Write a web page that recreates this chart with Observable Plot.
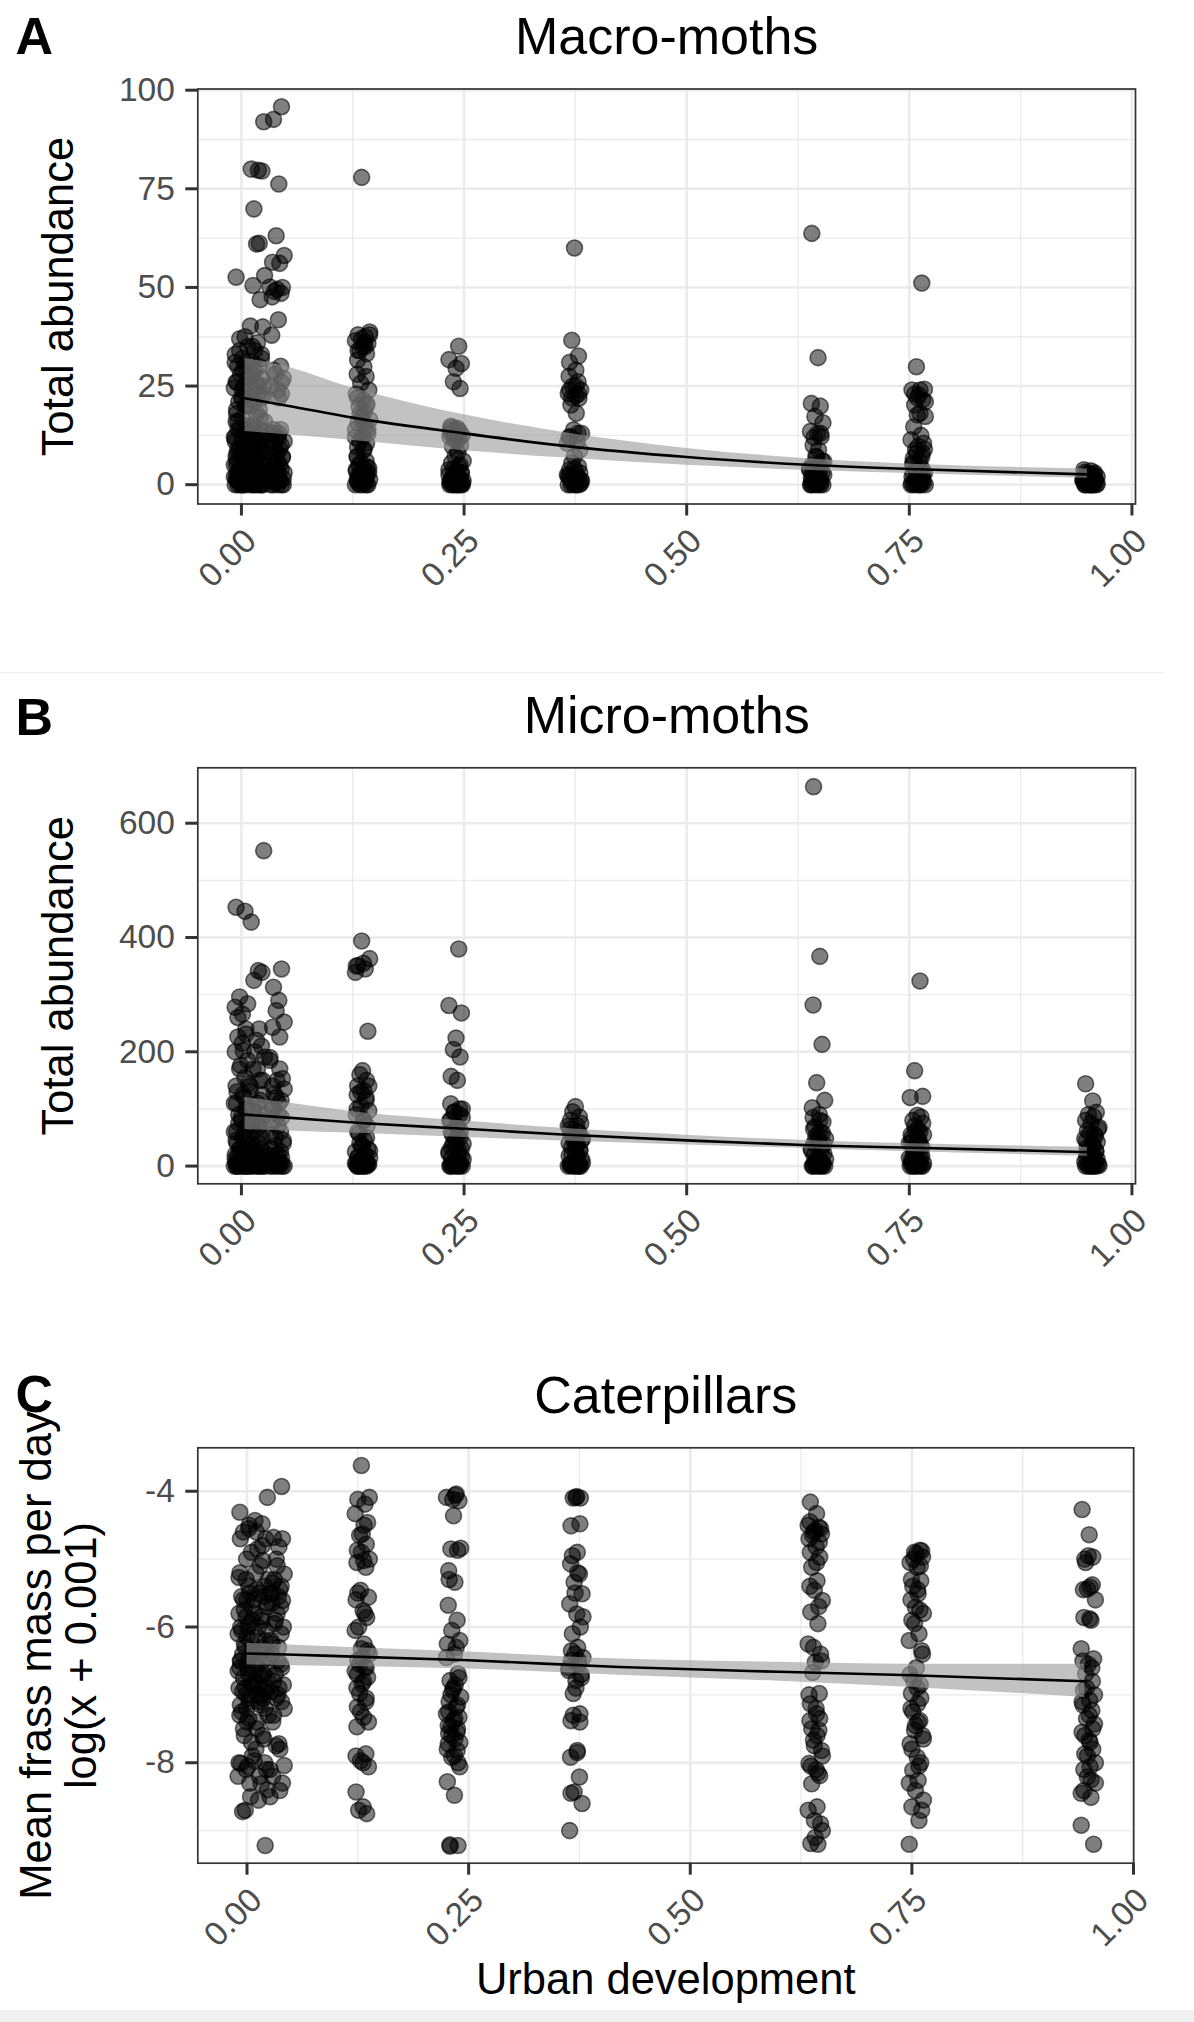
<!DOCTYPE html>
<html>
<head>
<meta charset="utf-8">
<script src="https://cdn.jsdelivr.net/npm/d3@7"></script>
<script src="https://cdn.jsdelivr.net/npm/@observablehq/plot@0.6"></script>
<style>
html, body { margin: 0; padding: 0; background: #fff; }
#fig { position: relative; width: 1194px; height: 2022px; overflow: hidden; background: #fff; }
#fig .panel { position: absolute; left: 0; width: 1194px; }
#fig .panel svg { display: block; }
.sep { position: absolute; left: 0; top: 672px; width: 1164px; height: 1px; background: #eeeeee; }
.band { position: absolute; left: 0; top: 2010px; width: 1194px; height: 12px; background: #f1f1f1; }
</style>
</head>
<body>
<div id="fig">
  <div class="panel" id="pA" style="top:0px"></div>
  <div class="panel" id="pB" style="top:672px"></div>
  <div class="panel" id="pC" style="top:1330px"></div>
  <div class="sep"></div>
  <div class="band"></div>
</div>
<script>
const FONT = "'Liberation Sans', Arial, Helvetica, sans-serif";

// ---------- shared axis values ----------
const xTicks = [0, 0.25, 0.5, 0.75, 1];
const xMinor = [0.125, 0.375, 0.625, 0.875];
// small horizontal jitter offsets (x units) as seen in the figure
const jitter = [-0.006, 0.004, -0.002, 0.007, -0.007, 0.001, 0.005, -0.004, 0.002, -0.001,
                0.008, -0.005, 0.003, -0.008, 0.006, 0, -0.003, 0.0045, -0.0055, 0.0015];

// ---------- A: Macro-moths ----------
const macroSites = [0.0, 0.018, 0.040, 0.136, 0.241, 0.374, 0.646, 0.760, 0.953];
const macroS1 = [52.6, 37.5, 37.0, 35, 33, 32, 31, 30, 29, 28, 27, 26, 25, 24.5, 23, 22, 21, 20, 19, 17, 16, 15, 14, 13.5, 12, 11, 10, 9, 8, 7.5, 7, 6, 5.5, 5, 4.5, 4, 3.5, 3, 2.5, 2, 1.5, 1, 1, 0.5, 0, 0, 0, 0,
  0, 0, 0.5, 1, 1.5, 2, 2.5, 3, 3.5, 4, 5, 6, 7, 8, 9, 10, 11, 12, 13, 14, 2, 4, 6, 8, 10, 12, 14, 1, 3, 5, 18, 22, 26, 30, 34, 27, 31, 24, 20, 16];
const macroS2 = [92.0, 80.0, 79.7, 79.5, 69.9, 61.2, 61.0, 53.0, 50.5, 46.9, 40.2, 40.0, 36, 34, 33, 31, 30, 28, 27, 26, 25, 24, 23, 22, 21, 19, 18, 16, 15, 14, 13, 12, 11, 10, 10, 9, 8, 7, 6, 5, 5, 4, 3, 3, 2, 2, 1, 1, 0, 0, 0, 0, 0,
  0, 0, 0.5, 1.5, 2.5, 3.5, 4.5, 5.5, 6.5, 7.5, 8.5, 9.5, 11, 12.5, 13.5, 14, 17, 20, 23, 25, 29, 32, 35];
const macroS3 = [95.8, 92.6, 76.2, 63.1, 58.1, 56.4, 56.1, 50.1, 50.0, 49.5, 49.0, 48.5, 47.6, 41.8, 37.9, 30, 28, 27, 25, 24, 23, 14, 13, 12, 11, 10, 9, 8, 7, 6, 5, 4, 3, 2.5, 2, 1, 1, 0, 0, 0,
  0, 0, 1, 2, 3, 4, 5, 6, 7, 8, 9, 10, 11, 12, 13, 14, 0.5, 1.5, 2.5, 3.5, 26, 29, 22];
const macroS4 = [77.9, 38.7, 38, 37.5, 36.5, 35.8, 35, 34, 33.2, 31.6, 29.9, 28, 27.4, 25.7, 24, 23, 21.5, 20.5, 19.8, 18.5, 17.3, 16.5, 15.6, 14.5, 13.9, 13, 12.2, 11, 10.5, 9.5, 8.8, 7.2, 6, 5.5, 4.2, 3.8, 3.5, 2.9, 2.5, 2.1, 1.6, 1.3, 1, 0.4, 0, 0, 0,
  0, 0, 0.5, 1, 1.5, 2, 2.5, 3, 3.5, 4, 4.5, 5, 36, 37, 38, 34, 35, 12, 14, 16, 18, 20, 22, 9, 7];
const macroS5 = [35.1, 31.7, 30.7, 29.5, 26.1, 24.4, 14.8, 14.3, 13.8, 13.5, 13.0, 12.5, 12.2, 11, 10, 9.7, 8, 7.2, 6, 5.5, 4.5, 3.8, 3, 2.5, 2, 1.3, 1, 0.8, 0.4, 0.2, 0, 0, 0, 0,
  0, 0, 0, 0.5, 1, 1.5, 2, 2.5, 3, 3.5, 4, 5, 13, 14, 14.5, 12, 11.5, 0.3, 0.7, 1.2];
const macroS6 = [60.0, 36.6, 32.6, 31, 29.0, 27.5, 26.1, 25, 24.0, 23.1, 22.5, 21.9, 20.2, 18.1, 13.9, 13, 12.2, 11, 10.5, 8.8, 7.2, 5.5, 4.6, 3.8, 3, 2.1, 1.5, 0.8, 0.3, 0, 0, 0,
  0, 0, 0.5, 1, 1.5, 2, 2.5, 3, 4, 22, 23, 24, 25, 12, 13, 0.2, 1.2, 2.2];
const macroS7 = [63.7, 32.2, 20.6, 19.9, 17.3, 15.7, 13.5, 13.0, 12.2, 10, 8.8, 7.2, 5.9, 5, 4.6, 3.8, 3, 2.5, 2, 1.3, 1, 0.4, 0, 0, 0, 0,
  0, 0, 0.5, 1, 1.5, 2, 2.5, 3, 3.5, 4, 6, 7, 12, 13, 0.3, 0.8, 1.8];
const macroS8 = [51.1, 29.9, 24.2, 24.0, 22.7, 21.5, 20.2, 18.1, 17.7, 17.3, 14.7, 12.5, 11.4, 10.5, 9.7, 8.8, 8.0, 6.7, 6, 5.5, 4.2, 3.5, 2.9, 2, 1.7, 1, 0.4, 0, 0, 0, 0,
  0, 0, 0.5, 1, 1.5, 2, 3, 4, 5, 7, 8, 9, 0.3, 1.3, 2.5, 23, 24, 22, 21];
const macroS9 = [3.8, 3.5, 3, 2.8, 2.5, 2.2, 2, 1.8, 1.5, 1.2, 1, 0.8, 0.5, 0.3, 0, 0, 0, 0, 0, 0, 1, 2, 0.5, 1.5,
  0, 0, 0.2, 0.4, 0.6, 1, 1.3, 1.7, 2.4, 2.6, 3.2, 0.1, 0.9];
const macroFitX  = [0.004, 0.044, 0.125, 0.25, 0.36, 0.5, 0.64, 0.76, 0.95];
const macroFit   = [21.9, 20.3, 17.0, 13.0, 9.9, 7.0, 5.0, 3.9, 2.6];
const macroFitHi = [32.0, 30.3, 24.5, 17.7, 13.3, 9.2, 6.5, 5.1, 4.0];
const macroFitLo = [13.5, 12.8, 11.2, 8.6, 6.8, 4.9, 3.6, 2.8, 1.6];
const macroYTicks = [0, 25, 50, 75, 100];
const macroYMinor = [12.5, 37.5, 62.5, 87.5];

// ---------- B: Micro-moths ----------
const microSites = [0.0, 0.018, 0.040, 0.136, 0.241, 0.375, 0.648, 0.758, 0.955];
const microS1 = [453, 446, 296, 284, 278, 266, 231, 226, 202, 176, 144, 130, 121, 110, 100, 86, 75, 62, 60, 50, 45, 40, 30, 22, 20, 15, 10, 8, 5, 3, 0, 0, 0, 0, 0, 0,
  0, 0, 0, 2, 4, 6, 8, 10, 12, 15, 18, 20, 25, 30, 35, 40, 50, 60, 70, 80, 90, 100, 110, 125, 140, 155, 170, 185, 200, 215, 240, 260, 1, 3, 5, 7];
const microS2 = [552, 427, 342, 339, 325, 240, 220, 191, 170, 150, 140, 125, 110, 95, 80, 70, 55, 40, 30, 25, 18, 12, 8, 5, 2, 0, 0, 0, 0, 0,
  0, 0, 1, 3, 5, 7, 9, 12, 15, 20, 25, 30, 40, 50, 60, 70, 80, 90, 100, 115, 130, 150, 170, 200, 210];
const microS3 = [345, 313, 290, 272, 252, 243, 226, 185, 153, 150, 127, 115, 100, 90, 75, 60, 50, 40, 30, 20, 15, 10, 5, 0, 0, 0, 0,
  0, 0, 1, 3, 5, 8, 12, 18, 25, 35, 45, 55, 70, 85, 100, 110, 120, 135, 140, 170, 190];
const microS4 = [394, 363, 351, 345, 339, 236, 167, 160, 150, 140, 132, 125, 115, 105, 97, 90, 80, 70, 57, 45, 35, 27, 15, 10, 5, 3, 0, 0, 0, 0,
  0, 0, 1, 2, 3, 4, 5, 6, 8, 10, 12, 14, 16, 20, 25, 30, 35, 40, 50, 60, 80, 100, 120, 130, 140, 350, 355];
const microS5 = [380, 281, 268, 224, 204, 191, 157, 150, 109, 100, 94, 85, 80, 70, 62, 55, 51, 45, 39, 33, 27, 22, 16, 10, 6, 4, 2, 0, 0, 0, 0,
  0, 0, 1, 2, 3, 5, 8, 12, 15, 20, 25, 30, 35, 40, 50, 60, 70, 80, 90, 95, 100];
const microS6 = [104, 95, 86, 80, 71, 65, 59, 52, 45, 40, 35, 27, 20, 15, 10, 6, 3, 0, 0, 0, 0,
  0, 0, 1, 2, 3, 5, 8, 12, 18, 22, 28, 33, 38, 42, 48, 55, 60, 70, 75];
const microS7 = [664, 367, 282, 213, 146, 115, 102, 90, 77, 69, 60, 55, 48, 40, 35, 28, 22, 15, 10, 5, 2, 0, 0, 0, 0,
  0, 0, 1, 2, 4, 6, 8, 12, 18, 25, 30, 38, 45, 52, 58, 65, 80, 85];
const microS8 = [324, 167, 122, 120, 89, 86, 80, 64, 62, 55, 50, 45, 40, 33, 27, 22, 16, 12, 8, 4, 2, 0, 0, 0, 0,
  0, 0, 1, 3, 5, 7, 10, 14, 18, 25, 30, 36, 42, 48, 55, 60, 70, 75];
const microS9 = [144, 114, 94, 90, 86, 74, 68, 62, 55, 48, 42, 36, 30, 27, 22, 19, 14, 10, 6, 3, 0, 0, 0, 0,
  0, 0, 1, 2, 4, 7, 12, 16, 20, 25, 32, 38, 45, 52, 58, 65, 80];
const microFitX  = [0.004, 0.044, 0.138, 0.25, 0.36, 0.5, 0.645, 0.755, 0.95];
const microFit   = [90, 85.7, 75, 65.3, 55.4, 45, 36, 32, 24.5];
const microFitHi = [120, 112, 93, 79, 66, 54, 44, 39, 33];
const microFitLo = [64, 62, 57, 50, 44, 37, 30, 25, 17];
const microYTicks = [0, 200, 400, 600];
const microYMinor = [100, 300, 500];

// ---------- C: Caterpillars ----------
const catSites = [-0.002, 0.016, 0.034, 0.130, 0.233, 0.371, 0.641, 0.755, 0.949];
const catS1 = [-4.31, -4.55, -4.6, -4.9, -5.27, -5.3, -5.5, -5.55, -5.6, -5.75, -5.9, -6.0, -6.0, -6.1, -6.2, -6.3, -6.4, -6.45, -6.5, -6.55, -6.6, -6.7, -6.75, -6.85, -6.9, -7.0, -7.1, -7.25, -7.4, -7.6, -7.9, -8.01, -8.05, -8.2, -8.5, -8.7, -8.72,
  -4.5, -4.7, -5.0, -5.2, -5.4, -5.6, -5.7, -5.8, -5.85, -5.95, -6.05, -6.15, -6.25, -6.35, -6.5, -6.6, -6.65, -6.8, -6.9, -6.95, -7.05, -7.15, -7.2, -7.3, -7.35, -7.5, -7.7, -8.0, -8.1, -8.3];
const catS2 = [-4.09, -4.43, -4.48, -4.7, -4.85, -5.02, -5.1, -5.3, -5.45, -5.55, -5.6, -5.7, -5.85, -6.0, -6.2, -6.35, -6.5, -6.6, -6.65, -6.7, -6.75, -6.8, -6.9, -6.95, -7.0, -7.05, -7.15, -7.3, -7.5, -7.65, -7.97, -8.1, -8.31, -8.55, -9.22,
  -4.6, -4.8, -5.2, -5.4, -5.5, -5.65, -5.8, -5.9, -6.05, -6.15, -6.3, -6.4, -6.45, -6.55, -6.7, -6.85, -6.9, -7.0, -7.1, -7.2, -7.4, -7.6, -7.8, -8.0, -8.2, -8.4];
const catS3 = [-3.93, -4.68, -4.82, -5.0, -5.22, -5.35, -5.45, -5.51, -5.61, -5.8, -5.95, -6.1, -6.25, -6.3, -6.4, -6.55, -6.7, -6.85, -6.95, -7.0, -7.1, -7.3, -7.72, -7.75, -8.04, -8.2, -8.41, -8.5,
  -4.7, -5.1, -5.3, -5.4, -5.5, -5.55, -5.65, -5.7, -5.9, -6.0, -6.2, -6.5, -6.6, -6.8, -6.9, -7.05, -7.2, -7.4, -7.8, -8.1, -8.3];
const catS4 = [-3.62, -4.09, -4.12, -4.19, -4.33, -4.46, -4.63, -4.65, -4.78, -4.87, -5.02, -5.05, -5.12, -5.46, -5.56, -5.6, -5.76, -5.86, -6.0, -6.25, -6.32, -6.40, -6.49, -6.59, -6.65, -6.74, -6.84, -6.98, -7.05, -7.18, -7.33, -7.47, -7.87, -7.97, -8.06, -8.43, -8.65, -8.75, -8.7,
  -4.5, -4.9, -5.0, -5.5, -5.8, -6.05, -6.35, -6.45, -6.55, -6.6, -6.7, -6.8, -6.9, -7.1, -7.25, -7.4, -7.9, -8.0];
const catS5 = [-4.04, -4.09, -4.14, -4.36, -4.85, -4.87, -5.17, -5.34, -5.68, -5.9, -6.05, -6.2, -6.25, -6.4, -6.69, -6.79, -6.85, -6.93, -7.03, -7.1, -7.18, -7.28, -7.33, -7.38, -7.47, -7.5, -7.57, -7.65, -7.72, -7.82, -7.92, -8.06, -8.28, -8.48, -9.22, -9.23,
  -4.06, -4.12, -4.84, -5.3, -6.3, -6.45, -6.75, -6.9, -7.0, -7.15, -7.25, -7.35, -7.45, -7.55, -7.6, -7.7, -7.8, -7.9, -8.0, -9.21];
const catS6 = [-4.09, -4.1, -4.48, -4.51, -4.90, -5.07, -5.22, -5.34, -5.51, -5.66, -5.81, -6.0, -6.10, -6.3, -6.40, -6.45, -6.49, -6.55, -6.64, -6.7, -6.79, -6.98, -7.28, -7.38, -7.82, -7.92, -8.21, -8.43, -8.6, -9.0,
  -4.08, -4.1, -4.95, -5.2, -5.5, -5.85, -6.35, -6.5, -6.6, -6.75, -6.9, -7.3, -7.4, -8.45, -7.85];
const catS7 = [-4.16, -4.33, -4.45, -4.53, -4.6, -4.63, -4.7, -4.82, -4.97, -5.12, -5.32, -5.46, -5.61, -5.78, -5.95, -6.25, -6.40, -6.52, -6.67, -6.98, -7.13, -7.28, -7.38, -7.52, -7.67, -7.82, -8.01, -8.1, -8.19, -8.31, -8.65, -8.85, -9.0, -9.19, -9.2,
  -4.5, -4.55, -4.58, -4.65, -4.75, -4.9, -5.05, -5.4, -5.7, -6.3, -6.5, -7.0, -7.2, -7.35, -7.5, -7.6, -7.75, -7.9, -8.05, -8.15, -8.7, -8.9, -9.1];
const catS8 = [-4.87, -4.9, -4.97, -5.05, -5.12, -5.32, -5.4, -5.51, -5.71, -5.8, -5.90, -6.10, -6.2, -6.35, -6.6, -6.79, -6.85, -6.98, -7.13, -7.2, -7.38, -7.52, -7.6, -7.72, -7.92, -8.0, -8.11, -8.26, -8.41, -8.55, -8.65, -8.85, -9.2,
  -4.88, -4.92, -5.0, -5.1, -5.3, -5.45, -5.6, -5.75, -5.95, -6.4, -6.7, -6.9, -7.05, -7.25, -7.4, -7.45, -7.65, -7.8, -8.05, -8.3, -8.7];
const catS9 = [-4.27, -4.64, -4.97, -5.0, -5.41, -5.44, -5.6, -5.86, -5.9, -6.32, -6.47, -6.55, -6.69, -6.8, -6.93, -7.08, -7.15, -7.23, -7.35, -7.43, -7.55, -7.67, -7.8, -7.87, -8.06, -8.21, -8.3, -8.41, -8.51, -8.92, -9.2,
  -4.95, -5.05, -5.38, -5.45, -5.88, -6.5, -6.6, -6.9, -7.0, -7.1, -7.3, -7.5, -7.6, -7.7, -7.9, -8.0, -8.1, -8.25, -8.45];
const catFitX  = [0.0, 0.054, 0.25, 0.42, 0.6, 0.75, 0.945];
const catFit   = [-6.39, -6.41, -6.49, -6.59, -6.66, -6.71, -6.80];
const catFitHi = [-6.24, -6.27, -6.37, -6.47, -6.52, -6.55, -6.55];
const catFitLo = [-6.56, -6.57, -6.62, -6.71, -6.80, -6.89, -7.04];
const catYTicks = [-8, -6, -4];
const catYMinor = [-9, -7, -5];

// ---------- helpers ----------
function makePoints(sites, groups) {
  const out = [];
  groups.forEach((vals, g) => {
    vals.forEach((v, i) => {
      out.push({x: sites[g] + jitter[(i + 3 * g) % jitter.length], y: v});
    });
  });
  return out;
}
function makeFit(xs, fit, lo, hi) {
  return xs.map((x, i) => ({x, fit: fit[i], lo: lo[i], hi: hi[i]}));
}

function panel(o) {
  const marks = [
    Plot.ruleX(xMinor, {stroke: "#ebebeb", strokeWidth: 1.4}),
    Plot.ruleY(o.yMinor, {stroke: "#ebebeb", strokeWidth: 1.4}),
    Plot.ruleX(xTicks.filter(d => d >= o.xDomain[0] && d <= o.xDomain[1]), {stroke: "#ebebeb", strokeWidth: 2.6}),
    Plot.ruleY(o.yTicks, {stroke: "#ebebeb", strokeWidth: 2.6}),
    Plot.dot(o.points, {x: "x", y: "y", r: 8, fill: "black", fillOpacity: 0.5,
      stroke: "black", strokeOpacity: 0.55, strokeWidth: 1.6}),
    Plot.areaY(o.fit, {x: "x", y1: "lo", y2: "hi", fill: "#999999", fillOpacity: 0.6, curve: "monotone-x"}),
    Plot.line(o.fit, {x: "x", y: "fit", stroke: "black", strokeWidth: 2.6, curve: "monotone-x"}),
    Plot.frame({stroke: "#333333", strokeWidth: 1.7}),
    Plot.axisX({ticks: xTicks, tickFormat: d3.format(".2f"), tickSize: 12, tickPadding: 10,
      tickRotate: -45, lineAnchor: "top", fontSize: 33.5, fill: "#4d4d4d", stroke: "#333333",
      strokeWidth: 3, label: null}),
    Plot.axisY({ticks: o.yTicks, tickFormat: d => String(d), tickSize: 12, tickPadding: 11,
      fontSize: 33.5, fill: "#4d4d4d", stroke: "#333333", strokeWidth: 3, label: null}),
    Plot.text([o.title], {frameAnchor: "top", dy: -35, lineAnchor: "bottom", fontSize: 52, fill: "black"}),
    Plot.text([o.tag], {frameAnchor: "top-left", textAnchor: "start", dx: 15 - o.ml, dy: o.tagDy,
      lineAnchor: "bottom", fontSize: 52, fontWeight: "bold", fill: "black"}),
    Plot.text([o.ylabel], {frameAnchor: "left", textAnchor: "middle", rotate: -90, dx: o.ylabelDx,
      lineAnchor: "bottom", lineHeight: 1.03, fontSize: 43.5, fill: "black"})
  ];
  if (o.xlabel) {
    marks.push(Plot.text([o.xlabel], {frameAnchor: "bottom", textAnchor: "middle", dy: o.xlabelDy,
      lineAnchor: "bottom", fontSize: 43.5, fill: "black"}));
  }
  return Plot.plot({
    width: 1194,
    height: o.height,
    marginTop: o.mt,
    marginBottom: o.mb,
    marginLeft: o.ml,
    marginRight: o.mr,
    x: {domain: o.xDomain},
    y: {domain: o.yDomain},
    style: {fontFamily: FONT, background: "white", overflow: "visible"},
    marks
  });
}

document.getElementById("pA").appendChild(panel({
  height: 672, mt: 88.5, mb: 168.5, ml: 197.3, mr: 59,
  xDomain: [-0.049, 1.004], yDomain: [-4.9, 100.3],
  yTicks: macroYTicks, yMinor: macroYMinor,
  points: makePoints(macroSites, [macroS1, macroS2, macroS3, macroS4, macroS5, macroS6, macroS7, macroS8, macroS9]),
  fit: makeFit(macroFitX, macroFit, macroFitLo, macroFitHi),
  title: "Macro-moths", tag: "A", tagDy: -35,
  ylabel: "Total abundance", ylabelDx: -124.6
}));

document.getElementById("pB").appendChild(panel({
  height: 658, mt: 95.3, mb: 146.7, ml: 197.3, mr: 59,
  xDomain: [-0.049, 1.004], yDomain: [-31, 697],
  yTicks: microYTicks, yMinor: microYMinor,
  points: makePoints(microSites, [microS1, microS2, microS3, microS4, microS5, microS6, microS7, microS8, microS9]),
  fit: makeFit(microFitX, microFit, microFitLo, microFitHi),
  title: "Micro-moths", tag: "B", tagDy: -33,
  ylabel: "Total abundance", ylabelDx: -124.6
}));

document.getElementById("pC").appendChild(panel({
  height: 692, mt: 117.3, mb: 159.3, ml: 197.3, mr: 60.8,
  xDomain: [-0.0555, 1.0002], yDomain: [-9.48, -3.36],
  yTicks: catYTicks, yMinor: catYMinor,
  points: makePoints(catSites, [catS1, catS2, catS3, catS4, catS5, catS6, catS7, catS8, catS9]),
  fit: makeFit(catFitX, catFit, catFitLo, catFitHi),
  title: "Caterpillars", tag: "C", tagDy: -35.7,
  ylabel: "Mean frass mass per day\nlog(x + 0.001)", ylabelDx: -102.3,
  xlabel: "Urban development", xlabelDy: 130.3
}));
</script>
</body>
</html>
